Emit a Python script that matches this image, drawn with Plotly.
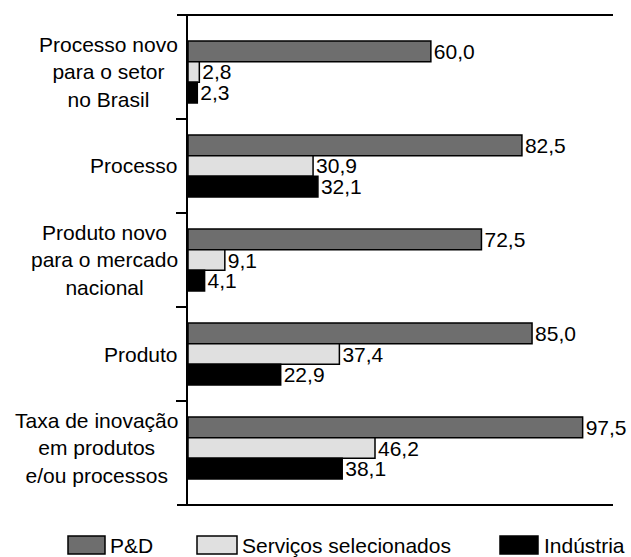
import plotly.graph_objects as go

categories = [
    "Processo novo<br>para o setor<br>no Brasil",
    "Processo",
    "Produto novo<br>para o mercado<br>nacional",
    "Produto",
    "Taxa de inovação<br>em produtos<br>e/ou processos",
]
series_names = ["P&D", "Serviços selecionados", "Indústria"]
pd_values = [60.0, 82.5, 72.5, 85.0, 97.5]
servicos_values = [2.8, 30.9, 9.1, 37.4, 46.2]
industria_values = [2.3, 32.1, 4.1, 22.9, 38.1]
colors = ["#6e6e6e", "#e0e0e0", "#000000"]

FONT = "Liberation Sans, Arial, sans-serif"
W, H = 631, 557
L, R, T, B = 188, 18, 15, 52
PW, PH = W - L - R, H - T - B


def px(x):
    return (x - L) / PW


def py(y):
    return (H - B - y) / PH


def fmt(v):
    return f"{v:.1f}".replace(".", ",")


pos = list(range(len(categories)))
fig = go.Figure()
for name, vals, col in zip(series_names, [pd_values, servicos_values, industria_values], colors):
    fig.add_trace(go.Bar(
        y=pos, x=vals, orientation="h", name=name,
        marker=dict(color=col, line=dict(color="black", width=1.5)),
        text=[fmt(v) for v in vals], textposition="outside",
        textfont=dict(size=21, color="black", family=FONT),
        constraintext="none", cliponaxis=False, showlegend=False,
    ))

# category labels, centred lines
for i, c in enumerate(categories):
    fig.add_annotation(x=px(180), xref="paper", y=i, yref="y", text=c,
                       xanchor="right", yanchor="middle", align="center",
                       showarrow=False, font=dict(size=21, color="black", family=FONT))

# top and bottom frame lines
for yy in (0, 1):
    fig.add_shape(type="line", xref="paper", yref="paper", x0=px(177), x1=px(613),
                  y0=yy, y1=yy, line=dict(color="black", width=2))

# legend drawn by hand
legend_items = [(68, 105, 108), (197, 237, 240), (500, 538, 542)]
for (x0, x1, tx), name, col in zip(legend_items, series_names, colors):
    fig.add_shape(type="rect", xref="paper", yref="paper", x0=px(x0), x1=px(x1),
                  y0=py(554), y1=py(536), fillcolor=col, line=dict(color="black", width=1.5))
    fig.add_annotation(x=px(tx), y=py(545), xref="paper", yref="paper", text=name,
                       xanchor="left", yanchor="middle", showarrow=False,
                       font=dict(size=21, color="black", family=FONT))

fig.update_layout(
    width=W, height=H, autosize=False,
    margin=dict(l=L, r=R, t=T, b=B),
    barmode="group", bargap=0.34, bargroupgap=0,
    plot_bgcolor="white", paper_bgcolor="white",
    font=dict(family=FONT, size=21, color="black"),
    xaxis=dict(range=[0, 105], visible=False, fixedrange=True),
    yaxis=dict(range=[4.606, -0.606], showline=True, linecolor="black", linewidth=2,
               ticks="outside", tickvals=[0.5, 1.5, 2.5, 3.5], ticklen=10,
               tickwidth=1.5, tickcolor="black", showticklabels=False,
               showgrid=False, zeroline=False, fixedrange=True),
)

fig.write_html("out.html", config={"displayModeBar": False},
               post_script="document.body.style.margin='0';document.body.style.overflow='hidden';")
